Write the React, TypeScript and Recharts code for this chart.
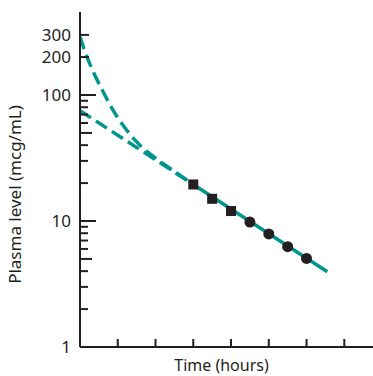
import { ComposedChart, Line, Scatter, XAxis, YAxis } from "recharts";

// time (hours) and plasma levels (mcg/mL)
const upperTimes = [0, 0.1, 0.25, 0.4, 0.6, 0.85, 1.15, 1.5, 2, 2.5, 3];
const upperLevels = [290, 235, 180, 142, 108, 78, 57, 42.5, 31.5, 24.8, 19.5];

const lowerTimes = [0, 1, 2, 3];
const lowerLevels = [75, 48, 30.6, 19.5];

const terminalTimes = [3, 6.55];
const terminalLevels = [19.5, 3.95];

const squareTimes = [3, 3.5, 4];
const squareLevels = [19.5, 15, 12];

const circleTimes = [4.5, 5, 5.5, 6];
const circleLevels = [9.8, 7.9, 6.25, 5.05];

const yTicks = [1, 2, 3, 4, 5, 6, 7, 8, 9, 10, 20, 30, 40, 50, 60, 70, 80, 90, 100, 200, 300];
const yLabels = [1, 10, 100, 200, 300];
const xTicks = [1, 2, 3, 4, 5, 6, 7];

const TEAL = "#00968f";
const INK = "#231f20";
const FONT = "'Noto Sans', sans-serif";

const toPoints = (ts: number[], vs: number[]) => ts.map((t, i) => ({ t, v: vs[i] }));

function YTick({ x = 0, y = 0, payload }: { x?: number; y?: number; payload?: { value: number } }) {
  const v = payload?.value ?? 0;
  const major = v === 1 || v === 10 || v === 100;
  const five = v === 5 || v === 50;
  const len = major ? 16 : five ? 12 : v >= 200 ? 9 : 8;
  return (
    <g>
      {v !== 1 ? <line x1={x} x2={x + len} y1={y} y2={y} stroke={INK} strokeWidth={2} /> : null}
      {yLabels.includes(v) ? (
        <text x={x - 9} y={y} dy={6} textAnchor="end" fill={INK} fontSize={17} fontFamily={FONT}>
          {v}
        </text>
      ) : null}
    </g>
  );
}

function XTick({ x = 0, y = 0 }: { x?: number; y?: number }) {
  return <line x1={x} x2={x} y1={y} y2={y - 8} stroke={INK} strokeWidth={2} />;
}

function XTitle({ viewBox }: { viewBox?: { x: number; y: number; width: number; height: number } }) {
  const cx = (viewBox?.x ?? 0) + (viewBox?.width ?? 0) / 2 - 5;
  return (
    <text x={cx} y={371} textAnchor="middle" fill={INK} fontSize={16} fontFamily={FONT}>
      Time (hours)
    </text>
  );
}

function YTitle({ viewBox }: { viewBox?: { x: number; y: number; width: number; height: number } }) {
  const cy = (viewBox?.y ?? 0) + (viewBox?.height ?? 0) / 2 + 15;
  return (
    <text x={21} y={cy} transform={`rotate(-90, 21, ${cy})`} textAnchor="middle" fill={INK} fontSize={17} fontFamily={FONT}>
      Plasma level (mcg/mL)
    </text>
  );
}

function Square({ cx = 0, cy = 0 }: { cx?: number; cy?: number }) {
  return <rect x={cx - 5} y={cy - 5} width={10} height={10} fill={INK} />;
}

function Dot({ cx = 0, cy = 0 }: { cx?: number; cy?: number }) {
  return <circle cx={cx} cy={cy} r={5.5} fill={INK} />;
}

export default function App() {
  return (
    <div style={{ position: "absolute", left: 0, top: 0, background: "#fff" }}>
      <ComposedChart width={373} height={376} margin={{ top: 12, right: 0, left: 0, bottom: 0 }}>
        <XAxis
          dataKey="t"
          type="number"
          domain={[0, 7.76]}
          allowDataOverflow
          ticks={xTicks}
          tickSize={0}
          tickMargin={0}
          tickLine={false}
          tick={<XTick />}
          height={29}
          axisLine={{ stroke: INK, strokeWidth: 2 }}
          label={<XTitle />}
        />
        <XAxis xAxisId="top" orientation="top" type="number" domain={[0, 7.76]} height={0} tick={false} tickLine={false} axisLine={{ stroke: INK, strokeWidth: 2 }} />
        <YAxis
          dataKey="v"
          scale="log"
          type="number"
          domain={[1, 456]}
          allowDataOverflow
          ticks={yTicks}
          interval={0}
          width={80}
          tickSize={0}
          tickMargin={0}
          tickLine={false}
          tick={<YTick />}
          axisLine={{ stroke: INK, strokeWidth: 2 }}
          label={<YTitle />}
        />
        <Line data={toPoints(upperTimes, upperLevels)} dataKey="v" type="monotone" stroke={TEAL} strokeWidth={3.5} strokeDasharray="13 6" dot={false} isAnimationActive={false} />
        <Line data={toPoints(lowerTimes, lowerLevels)} dataKey="v" type="linear" stroke={TEAL} strokeWidth={3.5} strokeDasharray="13 6" dot={false} isAnimationActive={false} />
        <Line data={toPoints(terminalTimes, terminalLevels)} dataKey="v" type="linear" stroke={TEAL} strokeWidth={3.5} dot={false} isAnimationActive={false} />
        <Scatter data={toPoints(squareTimes, squareLevels)} dataKey="v" shape={<Square />} isAnimationActive={false} />
        <Scatter data={toPoints(circleTimes, circleLevels)} dataKey="v" shape={<Dot />} isAnimationActive={false} />
      </ComposedChart>
    </div>
  );
}
